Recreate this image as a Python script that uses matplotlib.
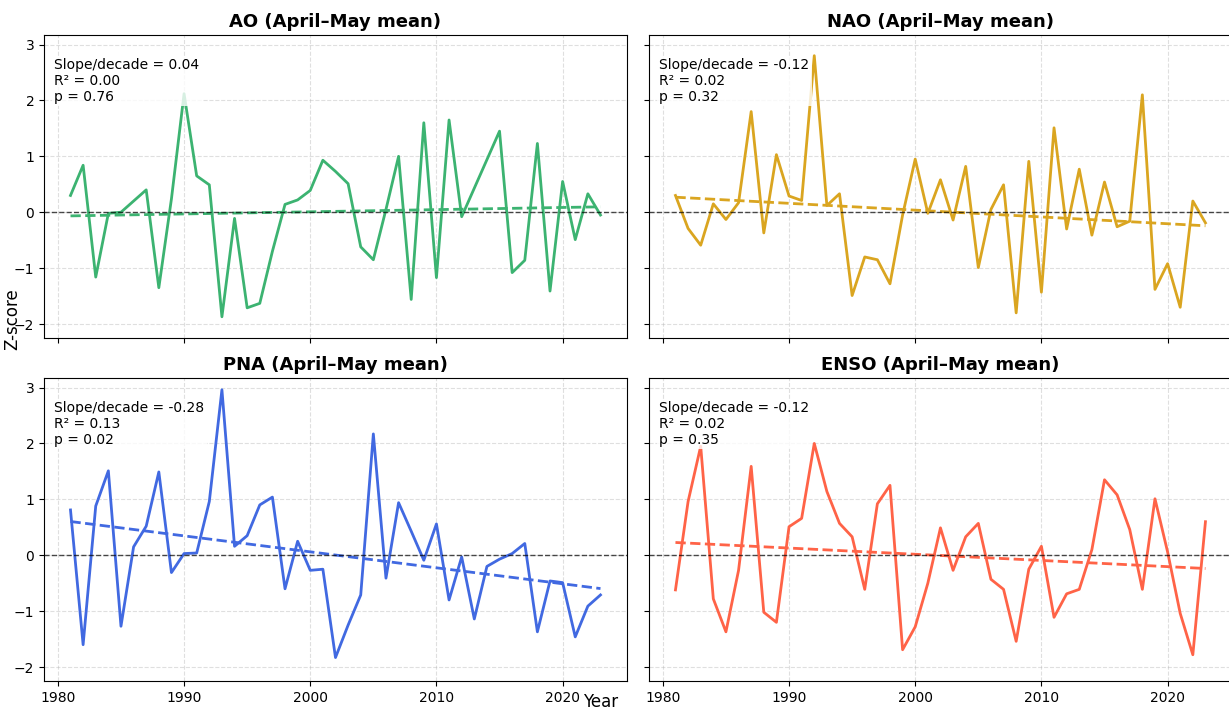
import numpy as np
import matplotlib.pyplot as plt

# -----------------------------
# Datos (z-scores, abril-mayo)
# -----------------------------
years = np.arange(1981, 2024)

ao = [0.30, 0.84, -1.16, -0.02, 0.00, 0.20, 0.40, -1.35, 0.24, 2.12,
      0.65, 0.49, -1.87, -0.11, -1.71, -1.63, -0.70, 0.14, 0.22, 0.39,
      0.93, 0.73, 0.51, -0.62, -0.85, 0.05, 1.00, -1.56, 1.60, -1.17,
      1.65, -0.08, 0.43, 0.94, 1.45, -1.08, -0.86, 1.23, -1.41, 0.55,
      -0.49, 0.33, -0.05]

nao = [0.30, -0.29, -0.59, 0.15, -0.13, 0.17, 1.80, -0.37, 1.03, 0.29,
       0.21, 2.80, 0.12, 0.33, -1.49, -0.80, -0.85, -1.28, -0.05, 0.95,
       -0.02, 0.58, -0.14, 0.82, -0.99, 0.05, 0.49, -1.80, 0.91, -1.43,
       1.51, -0.30, 0.77, -0.41, 0.54, -0.26, -0.16, 2.10, -1.38, -0.92,
       -1.70, 0.20, -0.19]

pna = [0.81, -1.60, 0.88, 1.51, -1.27, 0.15, 0.52, 1.49, -0.31, 0.03,
       0.04, 0.96, 2.96, 0.16, 0.35, 0.90, 1.04, -0.60, 0.25, -0.27,
       -0.25, -1.83, -1.25, -0.71, 2.17, -0.41, 0.94, 0.43, -0.09, 0.56,
       -0.80, -0.03, -1.14, -0.20, -0.07, 0.03, 0.21, -1.37, -0.46, -0.49,
       -1.46, -0.91, -0.71]

enso = [-0.62, 0.96, 1.95, -0.78, -1.37, -0.27, 1.59, -1.02, -1.20, 0.51,
        0.66, 2.00, 1.14, 0.57, 0.33, -0.61, 0.92, 1.25, -1.69, -1.28,
        -0.50, 0.49, -0.27, 0.33, 0.57, -0.43, -0.61, -1.54, -0.25, 0.16,
        -1.11, -0.69, -0.61, 0.10, 1.35, 1.08, 0.46, -0.61, 1.01, 0.06,
        -1.04, -1.78, 0.60]

names = ["AO", "NAO", "PNA", "ENSO"]
series = [ao, nao, pna, enso]
colors = ["#3cb371", "#daa520", "#4169e1", "#ff6347"]
slopes = ["0.04", "-0.12", "-0.28", "-0.12"]
r2s = ["0.00", "0.02", "0.13", "0.02"]
pvals = ["0.76", "0.32", "0.02", "0.35"]

# -----------------------------
# Figura
# -----------------------------
fig, axes = plt.subplots(2, 2, figsize=(12.29, 7.1), dpi=100,
                         sharex=True, sharey=True)
fig.subplots_adjust(left=0.0358, right=1.0024, top=0.9507, bottom=0.0408,
                    wspace=0.0377, hspace=0.132)

for ax, nombre, vals, col, s, r2, p in zip(axes.flat, names, series, colors,
                                          slopes, r2s, pvals):
    vals = np.array(vals)
    ax.plot(years, vals, color=col, lw=2)

    # tendencia lineal
    coef = np.polyfit(years, vals, 1)
    ax.plot(years, np.polyval(coef, years), color=col, lw=2, ls="--")

    ax.axhline(0, color="black", lw=1, ls="--", alpha=0.7)
    ax.grid(True, ls="--", alpha=0.4)
    ax.set_title(f"{nombre} (April\u2013May mean)", fontsize=13,
                 fontweight="bold")

    texto = f"Slope/decade = {s}\nR\u00b2 = {r2}\np = {p}"
    ax.text(0.018, 0.925, texto, transform=ax.transAxes, fontsize=10,
            va="top", ha="left", zorder=5,
            bbox=dict(facecolor="white", alpha=0.8, edgecolor="none",
                      pad=1.5))

ax0 = axes[0, 0]
ax0.set_ylim(-2.25, 3.17)
ax0.set_yticks([-2, -1, 0, 1, 2, 3])
ax0.set_xticks([1980, 1990, 2000, 2010, 2020])

fig.text(0.489, 0.004, "Year", ha="center", va="baseline", fontsize=12)
fig.text(0.003, 0.551, "Z-score", ha="left", va="center", rotation=90,
         fontsize=12)

plt.savefig("out.png", dpi=100)
plt.close()
